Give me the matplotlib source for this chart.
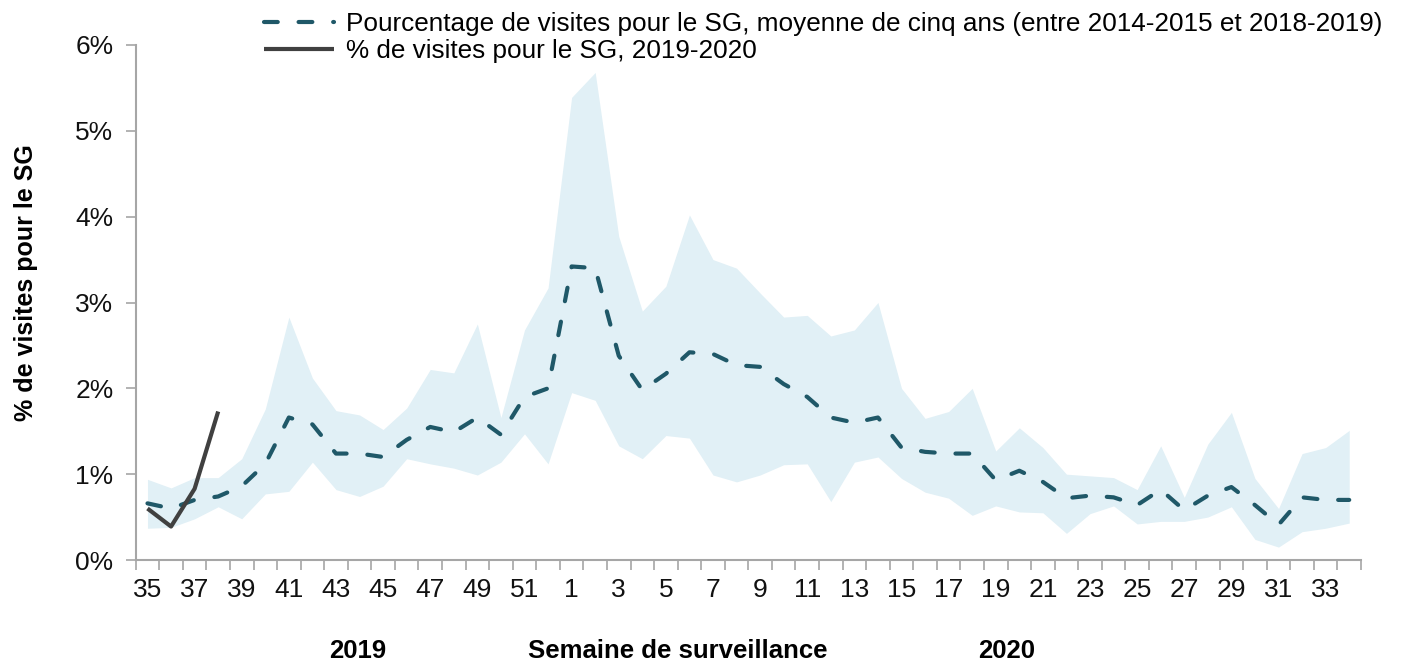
import matplotlib
matplotlib.use("Agg")
import matplotlib.pyplot as plt
from matplotlib.ticker import FuncFormatter, FixedLocator

plt.rcParams['font.family'] = ['Liberation Sans', 'DejaVu Sans']

weeks = list(range(35, 53)) + list(range(1, 35))

mean_5yr = [0.66, 0.60, 0.70, 0.74, 0.86, 1.12, 1.66, 1.58, 1.24, 1.24, 1.20, 1.40,
            1.55, 1.49, 1.66, 1.46, 1.90, 2.00,
            3.42, 3.40, 2.38, 1.98, 2.17, 2.42, 2.40, 2.27, 2.25, 2.05, 1.90, 1.66,
            1.60, 1.66, 1.31, 1.26, 1.24, 1.24, 0.93, 1.04, 0.91, 0.72, 0.75, 0.73,
            0.64, 0.82, 0.58, 0.75, 0.85, 0.64, 0.41, 0.73, 0.70, 0.70]

upper_5yr = [0.94, 0.84, 0.96, 0.96, 1.18, 1.76, 2.83, 2.12, 1.74, 1.69, 1.52, 1.77,
             2.22, 2.18, 2.75, 1.66, 2.68, 3.17,
             5.39, 5.68, 3.77, 2.90, 3.19, 4.02, 3.50, 3.40, 3.11, 2.83, 2.85, 2.61,
             2.68, 3.00, 2.00, 1.65, 1.73, 2.00, 1.27, 1.54, 1.31, 1.00, 0.98, 0.96,
             0.82, 1.33, 0.73, 1.35, 1.72, 0.95, 0.60, 1.24, 1.31, 1.51]

lower_5yr = [0.37, 0.38, 0.48, 0.62, 0.48, 0.77, 0.80, 1.14, 0.82, 0.74, 0.86, 1.18,
             1.12, 1.07, 0.99, 1.14, 1.47, 1.12,
             1.95, 1.86, 1.33, 1.18, 1.45, 1.42, 0.99, 0.91, 0.99, 1.11, 1.12, 0.68,
             1.14, 1.20, 0.95, 0.79, 0.72, 0.52, 0.63, 0.56, 0.55, 0.31, 0.54, 0.63,
             0.42, 0.45, 0.45, 0.50, 0.62, 0.24, 0.15, 0.33, 0.37, 0.43]

current = [0.60, 0.39, 0.83, 1.73]

label_mean = "Pourcentage de visites pour le SG, moyenne de cinq ans (entre 2014-2015 et 2018-2019)"
label_cur = "% de visites pour le SG, 2019-2020"

W, H = 1405, 662
fig = plt.figure(figsize=(W / 100, H / 100), dpi=100)
ax = fig.add_axes([135.7 / W, 1 - 560 / H, (1361 - 135.7) / W, (560 - 45) / H])

x = list(range(len(weeks)))
xc = list(range(len(current)))

ax.fill_between(x, lower_5yr, upper_5yr, color='#E1F0F6', linewidth=0, zorder=1)
ln_mean, = ax.plot(x, mean_5yr, color='#1F5868', linewidth=3.0, linestyle=(0, (3.3, 5.0)),
                   dash_capstyle='round', solid_capstyle='round', zorder=3, label=label_mean)
ln_cur, = ax.plot(xc, current, color='#404040', linewidth=3.0, solid_capstyle='butt',
                  zorder=4, label=label_cur)

ax.set_xlim(-0.5, len(weeks) - 0.5)
ax.set_ylim(0, 6)
ax.yaxis.set_major_locator(FixedLocator([0, 1, 2, 3, 4, 5, 6]))
ax.yaxis.set_major_formatter(FuncFormatter(lambda v, p: f"{int(round(v))}%"))

major = x[::2]
ax.set_xticks(major)
ax.set_xticklabels([str(weeks[i]) for i in major])
ax.set_xticks([i - 0.5 for i in range(len(weeks) + 1)], minor=True)
ax.tick_params(axis='x', which='major', length=0, pad=13, labelsize=19, colors='#111111')
ax.tick_params(axis='x', which='minor', length=7, width=1.2, color='#A6A6A6', direction='out')
ax.tick_params(axis='y', which='major', length=7, width=1.2, color='#A6A6A6', pad=9,
               labelsize=19, labelcolor='#111111')

for s in ['top', 'right']:
    ax.spines[s].set_visible(False)
for s in ['left', 'bottom']:
    ax.spines[s].set_color('#A6A6A6')
    ax.spines[s].set_linewidth(1.5)

fig.text(26 / W, 1 - 283 / H, "% de visites pour le SG", rotation=90, fontsize=18,
         fontweight='bold', ha='center', va='center')
fig.text(357.5 / W, 1 - 658 / H, "2019", fontsize=18.5, fontweight='bold', ha='center', va='baseline')
fig.text(678 / W, 1 - 658 / H, "Semaine de surveillance", fontsize=18.5, fontweight='bold',
         ha='center', va='baseline')
fig.text(1007 / W, 1 - 658 / H, "2020", fontsize=18.5, fontweight='bold', ha='center', va='baseline')

fig.legend(handles=[ln_mean, ln_cur], loc='upper left', bbox_to_anchor=(246 / W, 1 + 6 / H),
           frameon=False, fontsize=18.8, handlelength=2.68, handletextpad=0.46, labelspacing=0.1,
           borderpad=0.2)

fig.savefig("out.png", dpi=100)
